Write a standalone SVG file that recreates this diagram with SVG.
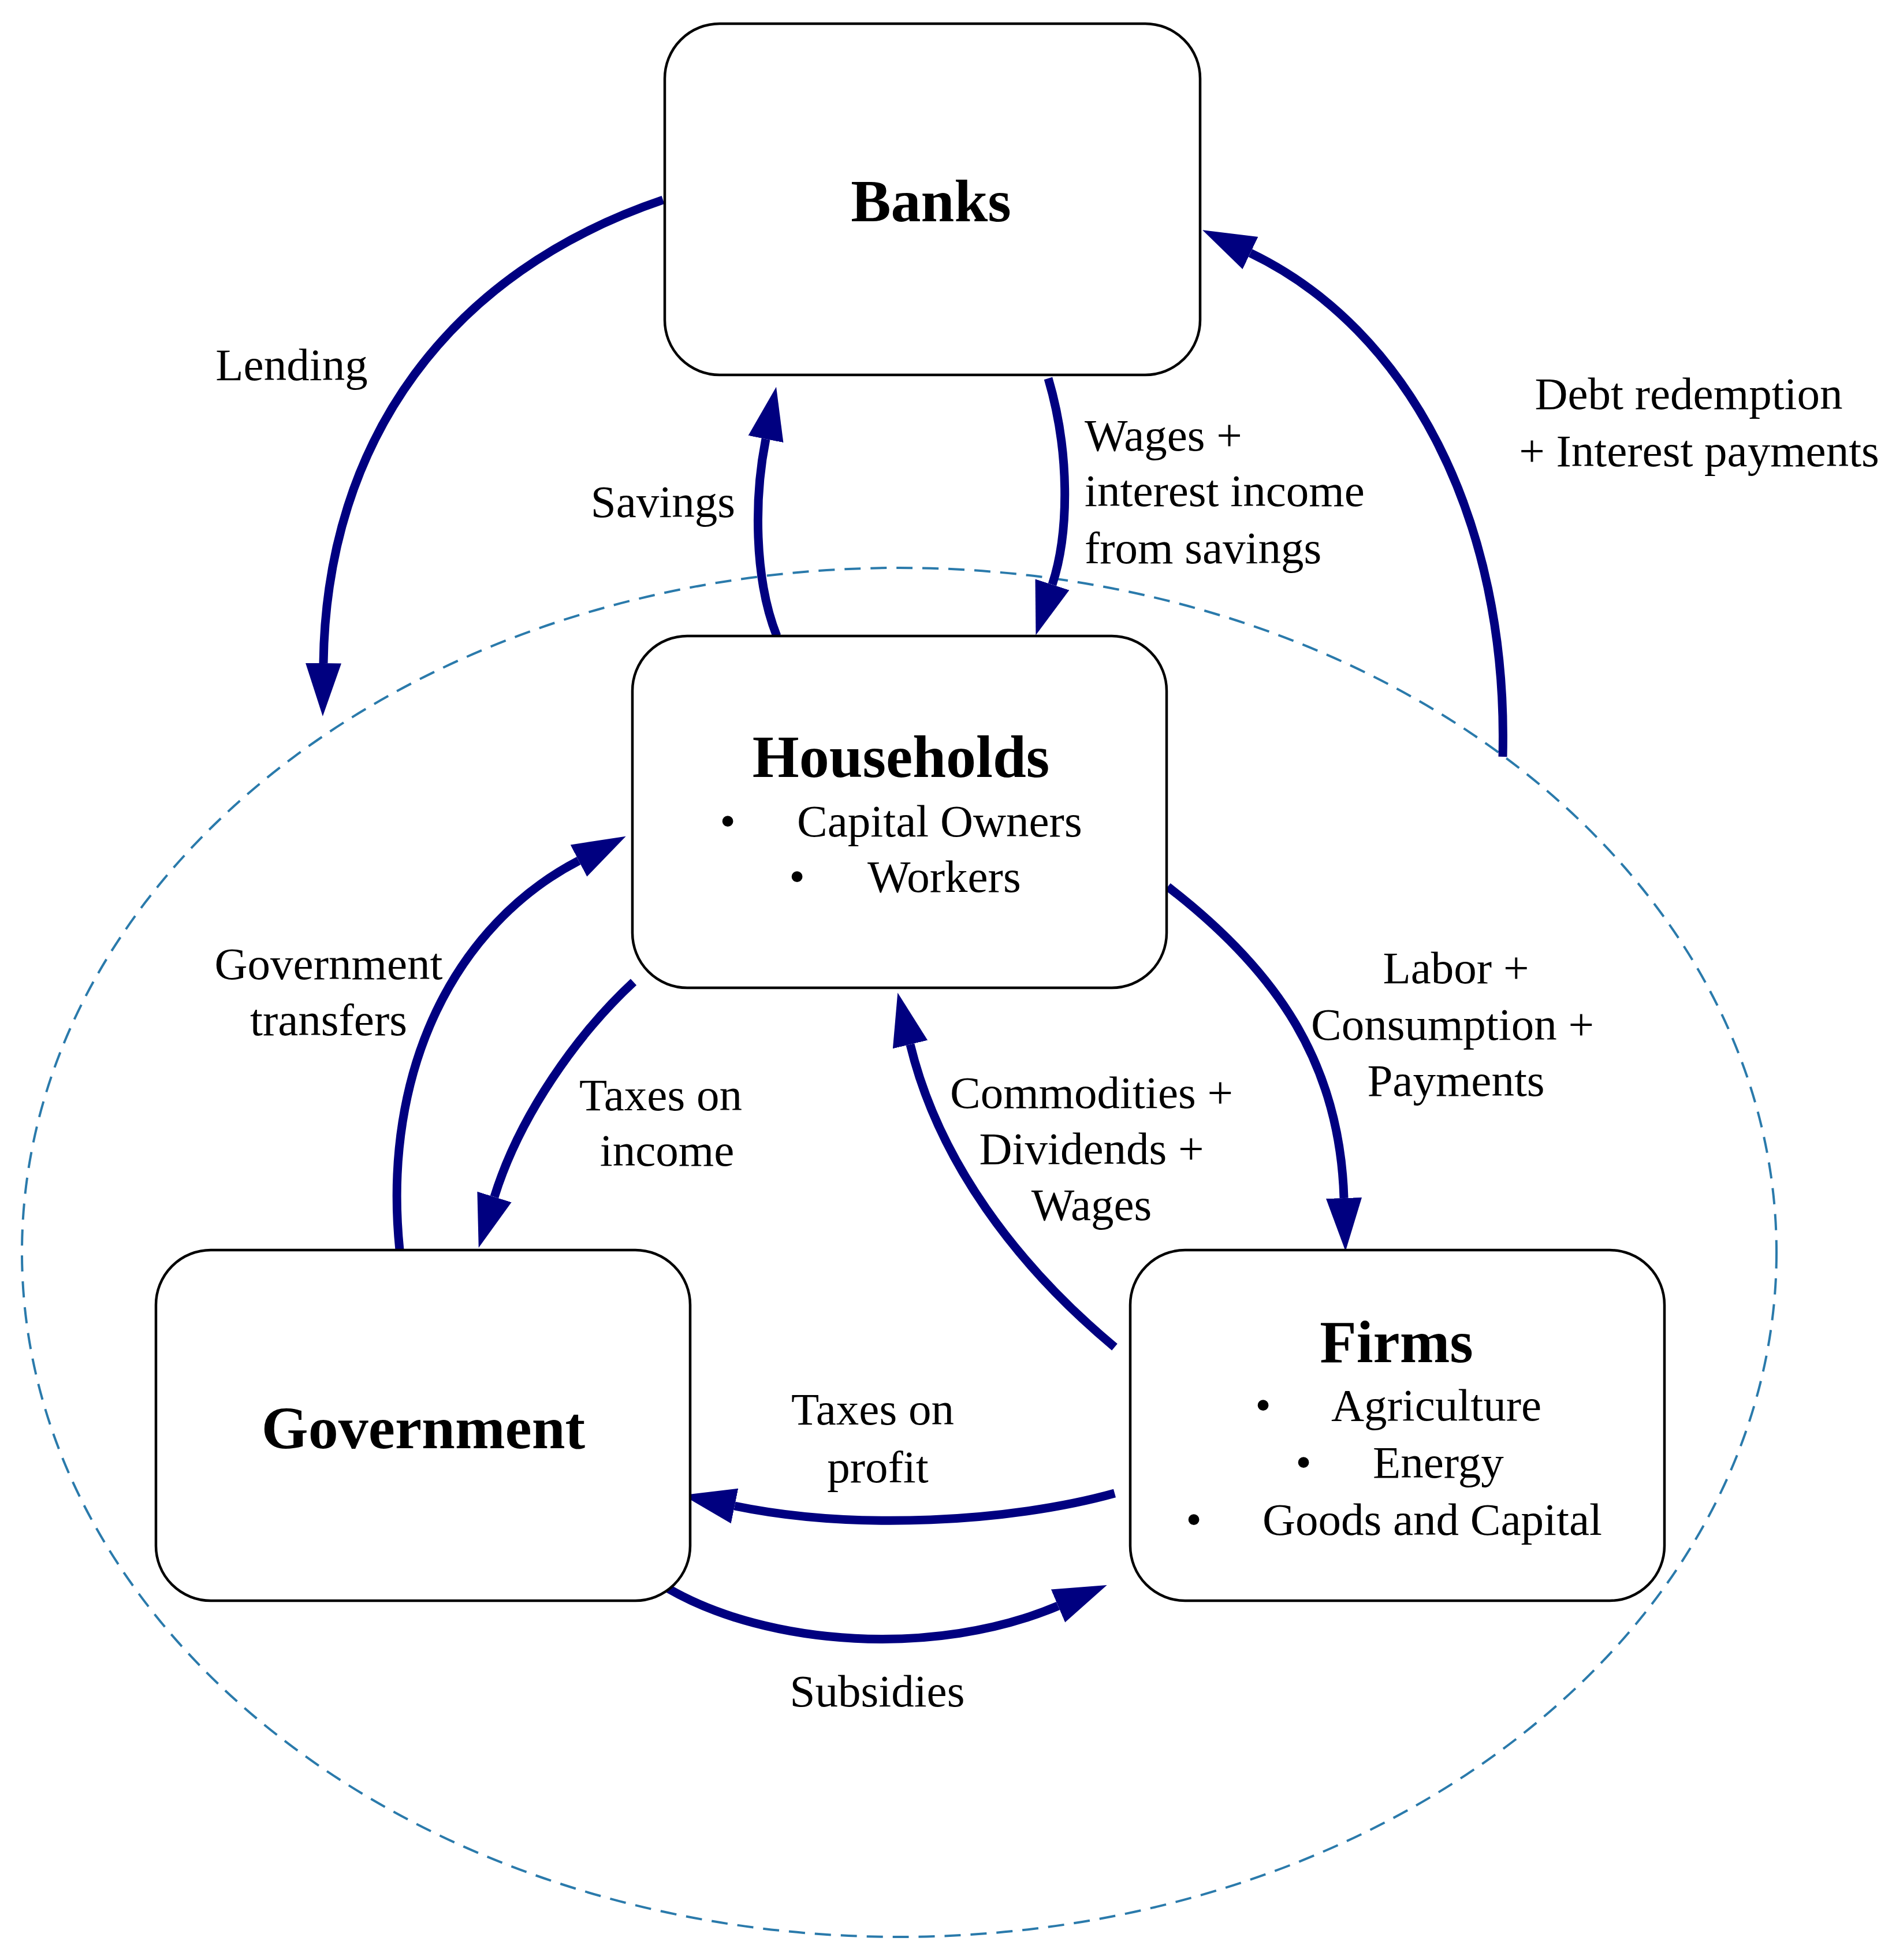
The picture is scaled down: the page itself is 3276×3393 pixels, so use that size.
<svg xmlns="http://www.w3.org/2000/svg" width="3276" height="3393" viewBox="0 0 3276 3393">
  <style>
    .box { fill: #ffffff; stroke: #000000; stroke-width: 4.5; }
    .flow { fill: none; stroke: #000080; stroke-width: 15; marker-end: url(#arrow); }
    .scope { fill: none; stroke: #2A7AAB; stroke-width: 4; stroke-dasharray: 28 17; }
    text { font-family: "Liberation Serif", "Times New Roman", serif; fill: #000000; }
    .lbl { font-size: 79px; }
    .mid { text-anchor: middle; }
    .ttl { font-size: 104px; font-weight: bold; text-anchor: middle; }
  </style>
  <defs>
    <marker id="arrow" markerUnits="userSpaceOnUse" viewBox="0 -32 95 64" markerWidth="95" markerHeight="64" refX="0" refY="0" orient="auto">
      <path d="M0,-31 L92,0 L0,31 z" fill="#000080"/>
    </marker>
  </defs>
  <rect width="3276" height="3393" fill="#ffffff"/>

  <ellipse id="economy-boundary" class="scope" cx="1557" cy="2168" rx="1519" ry="1185"/>

  <g id="connectors">
    <path class="flow" d="M1148,346 C780,470 565,760 560,1148"/>
    <path class="flow" d="M1345,1101 C1305,1000 1306,860 1326,760"/>
    <path class="flow" d="M1815,655 C1852,780 1852,920 1822,1012"/>
    <path class="flow" d="M2602,1310 C2612,900 2440,570 2165,438"/>
    <path class="flow" d="M692,2164 C660,1850 790,1600 1002,1490"/>
    <path class="flow" d="M1097,1700 C1000,1790 900,1930 856,2072"/>
    <path class="flow" d="M2022,1535 C2210,1680 2320,1840 2327,2074"/>
    <path class="flow" d="M1930,2332 C1760,2190 1625,2010 1576,1808"/>
    <path class="flow" d="M1930,2585 C1750,2635 1480,2650 1272,2607"/>
    <path class="flow" d="M1157,2750 C1330,2850 1620,2870 1832,2780"/>
  </g>

  <g id="labels">
    <text class="lbl mid" x="505" y="658">Lending</text>
    <text class="lbl mid" x="2924" y="708">Debt redemption</text>
    <text class="lbl mid" x="2942" y="807">+ Interest payments</text>
    <text class="lbl" x="1273" y="895" text-anchor="end">Savings</text>
    <text class="lbl" x="1878" y="780">Wages +</text>
    <text class="lbl" x="1878" y="876">interest income</text>
    <text class="lbl" x="1878" y="975">from savings</text>
    <text class="lbl mid" x="569" y="1695">Government</text>
    <text class="lbl mid" x="569" y="1792">transfers</text>
    <text class="lbl mid" x="1144" y="1922">Taxes on</text>
    <text class="lbl mid" x="1155" y="2018">income</text>
    <text class="lbl mid" x="1890" y="1918">Commodities +</text>
    <text class="lbl mid" x="1890" y="2015">Dividends +</text>
    <text class="lbl mid" x="1890" y="2112">Wages</text>
    <text class="lbl mid" x="2521" y="1702">Labor +</text>
    <text class="lbl mid" x="2515" y="1800">Consumption +</text>
    <text class="lbl mid" x="2521" y="1897">Payments</text>
    <text class="lbl mid" x="1511" y="2466">Taxes on</text>
    <text class="lbl mid" x="1520" y="2566">profit</text>
    <text class="lbl mid" x="1519" y="2954">Subsidies</text>
  </g>

  <g id="banks">
    <rect class="box" x="1151" y="41" width="927" height="608" rx="95" ry="95"/>
    <text class="ttl" x="1612" y="383">Banks</text>
  </g>

  <g id="households">
    <rect class="box" x="1095" y="1101" width="925" height="609" rx="95" ry="95"/>
    <text class="ttl" x="1560" y="1345">Households</text>
    <text class="lbl mid" x="1260" y="1448">•</text>
    <text class="lbl" x="1380" y="1448">Capital Owners</text>
    <text class="lbl mid" x="1380" y="1544">•</text>
    <text class="lbl" x="1502" y="1544">Workers</text>
  </g>

  <g id="government">
    <rect class="box" x="270" y="2164" width="925" height="607" rx="95" ry="95"/>
    <text class="ttl" x="733" y="2507">Government</text>
  </g>

  <g id="firms">
    <rect class="box" x="1957" y="2164" width="925" height="607" rx="95" ry="95"/>
    <text class="ttl" x="2418" y="2358">Firms</text>
    <text class="lbl mid" x="2187" y="2459">•</text>
    <text class="lbl" x="2305" y="2459">Agriculture</text>
    <text class="lbl mid" x="2257" y="2558">•</text>
    <text class="lbl" x="2377" y="2558">Energy</text>
    <text class="lbl mid" x="2067" y="2657">•</text>
    <text class="lbl" x="2186" y="2657">Goods and Capital</text>
  </g>
</svg>
